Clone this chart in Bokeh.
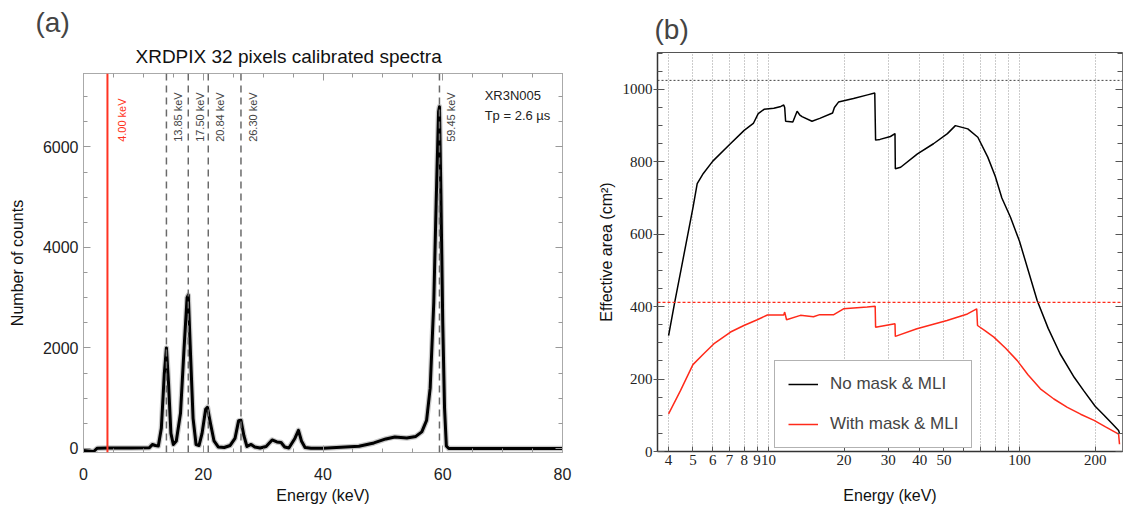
import math
from bokeh.plotting import figure
from bokeh.layouts import row
from bokeh.models import (Span, Label, LinearAxis, FixedTicker, PrintfTickFormatter,
                          CustomJSTickFormatter, Legend, LegendItem, Range1d,
                          SingleIntervalTicker, Title)
from bokeh.embed import file_html
from bokeh.resources import INLINE

# ---------------- Panel (a) data ----------------
spec_energy = [0.0, 0.8, 1.7, 2.3, 4.0, 8.0, 11.0, 11.5, 12.0, 12.5,
               13.0, 13.5, 13.85, 14.2, 14.6, 15.0, 15.5, 16.2, 16.8, 17.3,
               17.5, 17.9, 18.3, 18.8, 19.3, 19.8, 20.4, 20.7, 21.2, 21.8,
               22.5, 23.5, 24.5, 25.3, 25.9, 26.3, 26.8, 27.3, 28.0, 28.6,
               29.5, 30.5, 31.5, 32.3, 33.0, 33.6, 34.3, 35.3, 35.9, 36.4,
               37.0, 38.0, 40.0, 43.0, 46.0, 48.5, 50.5, 52.0, 54.0, 55.5,
               56.5, 57.3, 57.9, 58.5, 58.9, 59.3, 59.45, 59.7, 60.0, 60.3,
               60.6, 61.0, 80.0]
spec_counts = [-40, -50, -60, 5, 10, 10, 15, 80, 60, 50,
               400, 1500, 2000, 1300, 300, 80, 150, 700, 2000, 3000,
               3050, 1800, 600, 80, 60, 300, 780, 820, 500, 150,
               30, 20, 60, 200, 550, 560, 250, 40, 80, 30,
               10, 40, 170, 130, 120, 30, 10, 200, 360, 150,
               20, 5, 5, 25, 45, 110, 190, 230, 210, 240,
               330, 560, 1200, 2900, 4900, 6700, 6800, 5000, 2500, 800,
               50, 0, 0]
line_energies = [13.85, 17.50, 20.84, 26.30, 59.45]
line_labels = ["13.85 keV", "17.50 keV", "20.84 keV", "26.30 keV", "59.45 keV"]
threshold_energy = 4.00
threshold_label = "4.00 keV"
title_a = "XRDPIX 32 pixels calibrated spectra"
info_lines = ["XR3N005", "Tp = 2.6 \u00b5s"]

# ---------------- Panel (b) data ----------------
nomask_energy = [4.0, 4.23, 4.5, 5.0, 5.2, 5.5, 6.0, 7.0, 8.0, 8.7,
                 9.1, 9.6, 10.5, 11.2, 11.5, 11.6, 11.7, 12.5, 13.0, 13.3,
                 13.6, 14.9, 16.0, 18.0, 18.3, 19.0, 21.8, 24.8, 26.5, 26.7,
                 27.8, 30.6, 31.9, 32.0, 33.6, 39.2, 45.4, 51.6, 55.5, 62.2,
                 68.2, 74.7, 80.0, 85.0, 92.0, 100.0, 117.5, 130.0, 145.0, 165.0,
                 180.0, 200.0, 217.0, 235.0, 248.0, 250.0]
nomask_area = [320, 412, 508, 673, 740, 768, 802, 848, 887, 906,
               933, 945, 948, 953, 957, 950, 912, 910, 940, 930,
               925, 912, 920, 935, 950, 965, 975, 985, 990, 860,
               862, 870, 878, 781, 785, 822, 850, 878, 900, 891,
               868, 813, 760, 700, 647, 580, 417, 340, 270, 205,
               168, 125, 100, 75, 58, 50]
mask_energy = [4.0, 4.46, 5.0, 5.52, 6.05, 7.06, 7.98, 9.02, 9.9, 11.5,
               11.6, 11.8, 13.4, 15.1, 16.0, 18.2, 19.9, 24.7, 26.6, 26.7,
               31.9, 32.0, 39.0, 51.4, 62.0, 67.5, 68.0, 73.0, 79.0, 88.0,
               97.9, 108.0, 121.0, 137.0, 155.0, 175.0, 198.0, 220.0, 241.0, 248.0,
               250.0]
mask_area = [104, 168, 240, 270, 297, 330, 348, 364, 377, 377,
             385, 364, 376, 372, 378, 378, 394, 399, 401, 343,
             353, 318, 339, 362, 380, 394, 348, 333, 316, 285,
             251, 212, 173, 145, 122, 103, 86, 68, 53, 48,
             20]
grid_energies = [4, 5, 6, 7, 8, 9, 10, 20, 30, 40, 50, 60, 70, 80, 90, 100, 200]
labeled_energies = [4, 5, 6, 7, 8, 9, 10, 20, 30, 40, 50, 100, 200]
unlabeled_energies = [60, 70, 80, 90]
nomask_ref = 1025
mask_ref = 412
series_names = ["No mask & MLI", "With mask & MLI"]

SANS = "Liberation Sans"
SERIF = "Liberation Serif"


def empty_fmt():
    return CustomJSTickFormatter(code="return ''")


# ================= Panel (a) =================
pa = figure(width=590, height=506, x_range=Range1d(0, 80), y_range=Range1d(-80, 7460),
            output_backend="svg", toolbar_location=None, title="(a)", frame_align=False,
            min_border_left=83, min_border_right=28, min_border_top=73, min_border_bottom=54)
pa.title.text_font = SANS
pa.title.text_font_size = "28px"
pa.title.text_font_style = "normal"
pa.title.align = "left"
pa.title.offset = -48
pa.title.standoff = 0
pa.grid.visible = False
pa.outline_line_color = "#bbbbbb"
bottom_a = pa.below[0]
left_a = pa.left[0]
bottom_a.ticker = SingleIntervalTicker(interval=20, num_minor_ticks=4)
left_a.ticker = SingleIntervalTicker(interval=2000, num_minor_ticks=4)
top_a = LinearAxis(ticker=SingleIntervalTicker(interval=20, num_minor_ticks=4),
                   formatter=empty_fmt(), major_label_standoff=0)
right_a = LinearAxis(ticker=SingleIntervalTicker(interval=2000, num_minor_ticks=4),
                     formatter=empty_fmt(), major_label_standoff=0)
pa.add_layout(top_a, "above")
pa.add_layout(right_a, "right")
pa.add_layout(Title(text=title_a, align="left", offset=52, standoff=13,
                    text_font=SANS, text_font_size="19px",
                    text_font_style="normal", text_color="#111111"), "above")
for ax in [bottom_a, left_a, top_a, right_a]:
    ax.axis_line_color = "#aaaaaa"
    ax.major_tick_line_color = "#999999"
    ax.minor_tick_line_color = "#999999"
    ax.major_tick_in = 7
    ax.major_tick_out = 0
    ax.minor_tick_in = 4
    ax.minor_tick_out = 0
    ax.major_label_text_font = SANS
    ax.major_label_text_font_size = "16px"
    ax.major_label_text_color = "#222222"
    ax.axis_label_text_font = SANS
    ax.axis_label_text_font_style = "normal"
    ax.axis_label_text_font_size = "16px"
    ax.axis_label_text_color = "#111111"
bottom_a.axis_label = "Energy (keV)"
bottom_a.major_label_standoff = 15
bottom_a.axis_label_standoff = 4
left_a.axis_label = "Number of counts"
left_a.major_label_standoff = 5
left_a.axis_label_standoff = 14

pa.add_layout(Span(location=threshold_energy, dimension="height", line_color="#ff3322", line_width=2))
for e in line_energies:
    pa.add_layout(Span(location=e, dimension="height", line_color="#6a6a6a",
                       line_width=1.5, line_dash="7 5"))
pa.line(spec_energy, spec_counts, line_color="#888888", line_width=5.5, line_alpha=0.45, line_join="round")
pa.line(spec_energy, spec_counts, line_color="black", line_width=3, line_join="round")

for e, t in zip(line_energies, line_labels):
    pa.add_layout(Label(x=e + 1.0, y=6100, text=t, angle=math.pi / 2, text_align="left",
                        text_baseline="top", text_font=SANS, text_font_size="11px",
                        text_color="#444444"))
pa.add_layout(Label(x=threshold_energy + 1.5, y=6100, text=threshold_label, angle=math.pi / 2,
                    text_align="left", text_baseline="top", text_font=SANS,
                    text_font_size="11px", text_color="#ff3322"))
pa.add_layout(Label(x=67.0, y=7180, text=info_lines[0], text_baseline="top", text_font=SANS,
                    text_font_size="13px", text_color="#222222"))
pa.add_layout(Label(x=67.0, y=6780, text=info_lines[1], text_baseline="top", text_font=SANS,
                    text_font_size="13px", text_color="#222222"))

# ================= Panel (b) =================
pb = figure(width=542, height=506, x_axis_type="log", x_range=Range1d(3.613, 257),
            y_range=Range1d(0, 1102), output_backend="svg", toolbar_location=None, title="(b)",
            frame_align=False,
            min_border_left=67, min_border_right=10, min_border_top=52, min_border_bottom=55)
pb.title.text_font = SANS
pb.title.text_font_size = "28px"
pb.title.text_font_style = "normal"
pb.title.align = "left"
pb.title.offset = -3
pb.title.standoff = 16
pb.outline_line_color = "#555555"
pb.ygrid.visible = False
pb.xgrid.ticker = FixedTicker(ticks=grid_energies)
pb.xgrid.grid_line_color = "#999999"
pb.xgrid.grid_line_dash = "1 2"
pb.xgrid.grid_line_width = 1

bottom_b = pb.below[0]
left_b = pb.left[0]
bottom_b.ticker = FixedTicker(ticks=labeled_energies, minor_ticks=unlabeled_energies)
bottom_b.formatter = PrintfTickFormatter(format="%d")
left_b.ticker = SingleIntervalTicker(interval=200, num_minor_ticks=4)
right_b = LinearAxis(ticker=SingleIntervalTicker(interval=200, num_minor_ticks=4),
                     formatter=empty_fmt(), major_label_standoff=0)
pb.add_layout(right_b, "right")
for ax in [bottom_b, left_b, right_b]:
    ax.axis_line_color = "#333333"
    ax.axis_line_width = 1.5
    ax.major_tick_line_color = "#555555"
    ax.minor_tick_line_color = "#555555"
    ax.major_tick_in = 7
    ax.major_tick_out = 0
    ax.minor_tick_in = 5
    ax.minor_tick_out = 0
    ax.major_label_text_font = SERIF
    ax.major_label_text_font_size = "15px"
    ax.major_label_text_color = "#222222"
    ax.axis_label_text_font = SANS
    ax.axis_label_text_font_style = "normal"
    ax.axis_label_text_font_size = "16px"
    ax.axis_label_text_color = "#111111"
bottom_b.major_tick_in = 5
bottom_b.minor_tick_in = 5
bottom_b.major_label_standoff = 3
bottom_b.axis_label = "Energy (keV)"
bottom_b.axis_label_standoff = 19
left_b.major_tick_out = 4
left_b.major_label_standoff = 1
left_b.axis_label = "Effective area (cm\u00b2)"
left_b.axis_label_standoff = 5
right_b.axis_line_color = "#777777"
right_b.axis_line_width = 1

pb.add_layout(Span(location=nomask_ref, dimension="width", line_color="#444444",
                   line_width=1, line_dash="2 2"))
pb.add_layout(Span(location=mask_ref, dimension="width", line_color="#ff2a1a",
                   line_width=1.2, line_dash="3 2"))
r1 = pb.line(nomask_energy, nomask_area, line_color="black", line_width=1.5)
r2 = pb.line(mask_energy, mask_area, line_color="#ff2a1a", line_width=1.5)

legend = Legend(items=[LegendItem(label=series_names[0], renderers=[r1]),
                       LegendItem(label=series_names[1], renderers=[r2])],
                location=(117, 3), label_text_font=SANS, label_text_font_size="17px",
                glyph_width=30, glyph_height=20, label_height=20, label_standoff=12,
                padding=13, spacing=20, border_line_color="#666666", border_line_width=1.5,
                background_fill_color="white", background_fill_alpha=1.0, margin=0)
pb.add_layout(legend, "center")

layout = row(pa, pb)
open("out.html", "w").write(file_html(layout, INLINE))
